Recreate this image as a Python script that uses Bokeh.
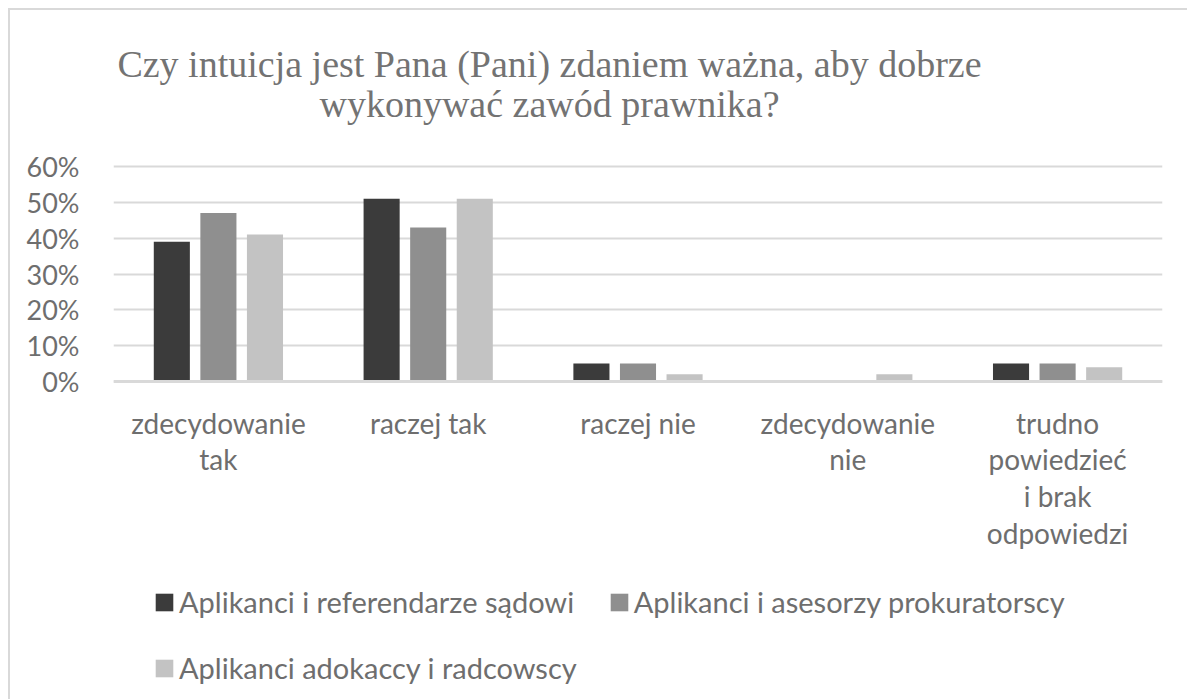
from bokeh.plotting import figure
from bokeh.models import (FactorRange, Range1d, FixedTicker, NumeralTickFormatter,
                          Legend, LegendItem, ColumnDataSource)
from bokeh.core.properties import value
from bokeh.transform import dodge
from bokeh.embed import file_html
from bokeh.resources import INLINE

categories = ["zdecydowanie\ntak", "raczej tak", "raczej nie", "zdecydowanie\nnie",
              "trudno\npowiedzieć\ni brak\nodpowiedzi"]
series_names = ["Aplikanci i referendarze sądowi", "Aplikanci i asesorzy prokuratorscy",
                "Aplikanci adokaccy i radcowscy"]
sadowi = [0.39, 0.51, 0.05, 0.00, 0.05]
prokuratorscy = [0.47, 0.43, 0.05, 0.00, 0.05]
radcowscy = [0.41, 0.51, 0.02, 0.02, 0.04]
y_ticks = [0, 0.1, 0.2, 0.3, 0.4, 0.5, 0.6]
title_lines = ["Czy intuicja jest Pana (Pani) zdaniem ważna, aby dobrze",
               "wykonywać zawód prawnika?"]

colors = ["#3b3b3b", "#8f8f8f", "#c3c3c3"]
text_color = "#6e6e6e"
sans = "Lato"

# layout geometry (page pixels)
W, H = 1179, 691
canvas_top = 10          # 8px page margin + 2px border
frame_left, frame_right = 113, 1162
y60_px, y0_px = 166, 381
ppu = (y0_px - y60_px) / 0.6          # pixels per unit of value


def yv(page_y):
    return (y0_px - page_y) / ppu


def xv(page_x):
    return (page_x - frame_left) / ((frame_right - frame_left) / len(categories))


y_top = yv(canvas_top)
y_bot = yv(canvas_top + H)

src = ColumnDataSource(dict(cat=categories, s0=sadowi, s1=prokuratorscy, s2=radcowscy))

p = figure(width=W, height=H, x_range=FactorRange(factors=categories),
           y_range=Range1d(y_bot, y_top), output_backend="svg", toolbar_location=None,
           min_border_left=frame_left - 10, min_border_right=W + 10 - frame_right,
           min_border_top=0, min_border_bottom=0)
p.outline_line_color = None
p.styles = {"margin-left": "8px", "margin-top": "8px",
            "border-left": "2px solid #d9d9d9", "border-top": "2px solid #d9d9d9"}
p.xaxis.visible = False

offsets = [-0.222, 0.0, 0.222]
renderers = []
for i, key in enumerate(["s0", "s1", "s2"]):
    r = p.vbar(x=dodge("cat", offsets[i], range=p.x_range), top=key, width=0.172,
               source=src, fill_color=colors[i], line_color=None)
    renderers.append(r)

p.xgrid.grid_line_color = None
p.ygrid.ticker = FixedTicker(ticks=y_ticks)
p.ygrid.grid_line_color = "#d9d9d9"
p.ygrid.grid_line_width = 2
p.yaxis.ticker = FixedTicker(ticks=y_ticks)
p.yaxis.formatter = NumeralTickFormatter(format="0%")
p.yaxis.axis_line_color = None
p.yaxis.major_tick_line_color = None
p.yaxis.minor_tick_line_color = None
p.yaxis.major_label_text_font = sans
p.yaxis.major_label_text_font_size = "27px"
p.yaxis.major_label_text_color = text_color
p.yaxis.major_label_standoff = 28

# zero baseline, slightly heavier like the reference
p.hspan(y=[y_ticks[0]], line_color="#d9d9d9", line_width=3)

# category labels
p.text(x=categories, y=[yv(405)] * len(categories), text=categories,
       text_align="center", text_baseline="top", text_font=value(sans),
       text_font_size="28px", text_color=text_color, text_line_height=1.08)

# title
p.text(x=[xv(549)] * 2, y=[yv(63), yv(103)], text=title_lines,
       text_align="center", text_baseline="middle",
       text_font=value("Liberation Serif"), text_font_size="38px",
       text_color="#737373")

legend = Legend(items=[LegendItem(label=n, renderers=[r]) for n, r in zip(series_names, renderers)],
                orientation="horizontal", ncols=2, location=(40, 16),
                border_line_color=None, background_fill_alpha=0,
                label_text_font=sans, label_text_font_size="29px", label_text_color=text_color,
                glyph_width=22, glyph_height=22, label_standoff=4, spacing=31,
                label_height=22, padding=0, margin=0)
p.add_layout(legend, "center")

open("out.html", "w").write(file_html(p, INLINE))
